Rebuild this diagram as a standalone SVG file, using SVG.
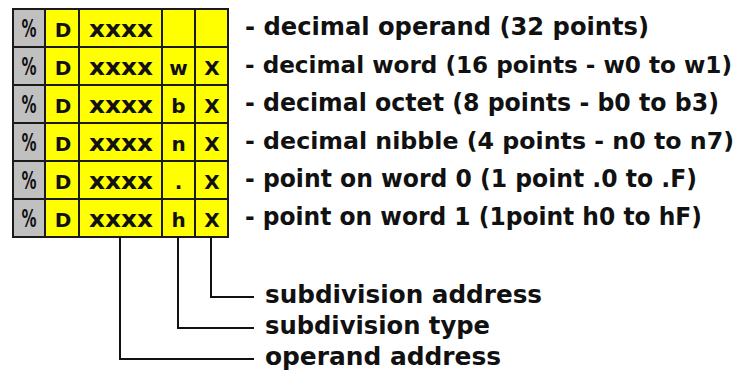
<svg xmlns="http://www.w3.org/2000/svg" width="744" height="371" viewBox="0 0 744 371">
  <style>
    .cell { fill: #ffff00; stroke: #1a1a1a; stroke-width: 2; }
    .grey { fill: #c0c0c0; stroke: #1a1a1a; stroke-width: 2; }
    .ct { font-family: "DejaVu Sans", "Liberation Sans", sans-serif; font-weight: bold; font-size: 20px; fill: #111; text-anchor: middle; }
    .pc { font-family: "DejaVu Sans", "Liberation Sans", sans-serif; font-weight: bold; font-size: 24px; fill: #111; text-anchor: middle; }
    .cx { font-family: "DejaVu Sans", "Liberation Sans", sans-serif; font-weight: bold; font-size: 23px; fill: #111; text-anchor: middle; }
    .lbl { font-family: "DejaVu Sans", "Liberation Sans", sans-serif; font-weight: bold; font-size: 24px; fill: #111; }
    .lbl.long { font-size: 23px; }
    .lead { fill: none; stroke: #111; stroke-width: 2; }
  </style>
  <rect width="744" height="371" fill="#ffffff"/>

  <!-- address table: one row per operand form -->
  <g id="row-operand">
    <rect class="grey" x="13" y="9" width="32" height="38"/>
    <rect class="cell" x="45" y="9" width="34" height="38"/>
    <rect class="cell" x="79" y="9" width="83" height="38"/>
    <rect class="cell" x="162" y="9" width="33" height="38"/>
    <rect class="cell" x="195" y="9" width="33" height="38"/>
    <text class="pc" x="29" y="37" textLength="15" lengthAdjust="spacingAndGlyphs">%</text>
    <text class="ct" x="63" y="37">D</text>
    <text class="cx" x="121" y="37" textLength="64" lengthAdjust="spacingAndGlyphs">xxxx</text>
  </g>
  <g id="row-word">
    <rect class="grey" x="13" y="47" width="32" height="38"/>
    <rect class="cell" x="45" y="47" width="34" height="38"/>
    <rect class="cell" x="79" y="47" width="83" height="38"/>
    <rect class="cell" x="162" y="47" width="33" height="38"/>
    <rect class="cell" x="195" y="47" width="33" height="38"/>
    <text class="pc" x="29" y="75" textLength="15" lengthAdjust="spacingAndGlyphs">%</text>
    <text class="ct" x="63" y="75">D</text>
    <text class="cx" x="121" y="75" textLength="64" lengthAdjust="spacingAndGlyphs">xxxx</text>
    <text class="ct" x="178.5" y="75">w</text>
    <text class="ct" x="212" y="75">X</text>
  </g>
  <g id="row-octet">
    <rect class="grey" x="13" y="85" width="32" height="38"/>
    <rect class="cell" x="45" y="85" width="34" height="38"/>
    <rect class="cell" x="79" y="85" width="83" height="38"/>
    <rect class="cell" x="162" y="85" width="33" height="38"/>
    <rect class="cell" x="195" y="85" width="33" height="38"/>
    <text class="pc" x="29" y="113" textLength="15" lengthAdjust="spacingAndGlyphs">%</text>
    <text class="ct" x="63" y="113">D</text>
    <text class="cx" x="121" y="113" textLength="64" lengthAdjust="spacingAndGlyphs">xxxx</text>
    <text class="ct" x="178.5" y="113">b</text>
    <text class="ct" x="212" y="113">X</text>
  </g>
  <g id="row-nibble">
    <rect class="grey" x="13" y="123" width="32" height="38"/>
    <rect class="cell" x="45" y="123" width="34" height="38"/>
    <rect class="cell" x="79" y="123" width="83" height="38"/>
    <rect class="cell" x="162" y="123" width="33" height="38"/>
    <rect class="cell" x="195" y="123" width="33" height="38"/>
    <text class="pc" x="29" y="151" textLength="15" lengthAdjust="spacingAndGlyphs">%</text>
    <text class="ct" x="63" y="151">D</text>
    <text class="cx" x="121" y="151" textLength="64" lengthAdjust="spacingAndGlyphs">xxxx</text>
    <text class="ct" x="178.5" y="151">n</text>
    <text class="ct" x="212" y="151">X</text>
  </g>
  <g id="row-point-w0">
    <rect class="grey" x="13" y="161" width="32" height="38"/>
    <rect class="cell" x="45" y="161" width="34" height="38"/>
    <rect class="cell" x="79" y="161" width="83" height="38"/>
    <rect class="cell" x="162" y="161" width="33" height="38"/>
    <rect class="cell" x="195" y="161" width="33" height="38"/>
    <text class="pc" x="29" y="189" textLength="15" lengthAdjust="spacingAndGlyphs">%</text>
    <text class="ct" x="63" y="189">D</text>
    <text class="cx" x="121" y="189" textLength="64" lengthAdjust="spacingAndGlyphs">xxxx</text>
    <text class="ct" x="178.5" y="189">.</text>
    <text class="ct" x="212" y="189">X</text>
  </g>
  <g id="row-point-w1">
    <rect class="grey" x="13" y="199" width="32" height="38"/>
    <rect class="cell" x="45" y="199" width="34" height="38"/>
    <rect class="cell" x="79" y="199" width="83" height="38"/>
    <rect class="cell" x="162" y="199" width="33" height="38"/>
    <rect class="cell" x="195" y="199" width="33" height="38"/>
    <text class="pc" x="29" y="227" textLength="15" lengthAdjust="spacingAndGlyphs">%</text>
    <text class="ct" x="63" y="227">D</text>
    <text class="cx" x="121" y="227" textLength="64" lengthAdjust="spacingAndGlyphs">xxxx</text>
    <text class="ct" x="178.5" y="227">h</text>
    <text class="ct" x="212" y="227">X</text>
  </g>

  <!-- row descriptions -->
  <g id="descriptions">
    <text class="lbl" x="245" y="35" textLength="404" lengthAdjust="spacingAndGlyphs">- decimal operand (32 points)</text>
    <text class="lbl long" x="245" y="73" textLength="487" lengthAdjust="spacingAndGlyphs">- decimal word (16 points - w0 to w1)</text>
    <text class="lbl" x="245" y="111" textLength="474" lengthAdjust="spacingAndGlyphs">- decimal octet (8 points - b0 to b3)</text>
    <text class="lbl long" x="245" y="149" textLength="489" lengthAdjust="spacingAndGlyphs">- decimal nibble (4 points - n0 to n7)</text>
    <text class="lbl" x="245" y="187" textLength="452" lengthAdjust="spacingAndGlyphs">- point on word 0 (1 point .0 to .F)</text>
    <text class="lbl" x="245" y="225" textLength="457" lengthAdjust="spacingAndGlyphs">- point on word 1 (1point h0 to hF)</text>
  </g>

  <!-- leader lines from the columns to their captions -->
  <g id="connectors">
    <polyline class="lead" points="211,237 211,297 254,297"/>
    <polyline class="lead" points="178,237 178,328 254,328"/>
    <polyline class="lead" points="120,237 120,359 254,359"/>
  </g>

  <g id="caption-subdivision-address">
    <text class="lbl" x="265" y="303" textLength="277" lengthAdjust="spacingAndGlyphs">subdivision address</text>
  </g>
  <g id="caption-subdivision-type">
    <text class="lbl" x="265" y="334" textLength="225" lengthAdjust="spacingAndGlyphs">subdivision type</text>
  </g>
  <g id="caption-operand-address">
    <text class="lbl" x="265" y="365" textLength="236" lengthAdjust="spacingAndGlyphs">operand address</text>
  </g>
</svg>
